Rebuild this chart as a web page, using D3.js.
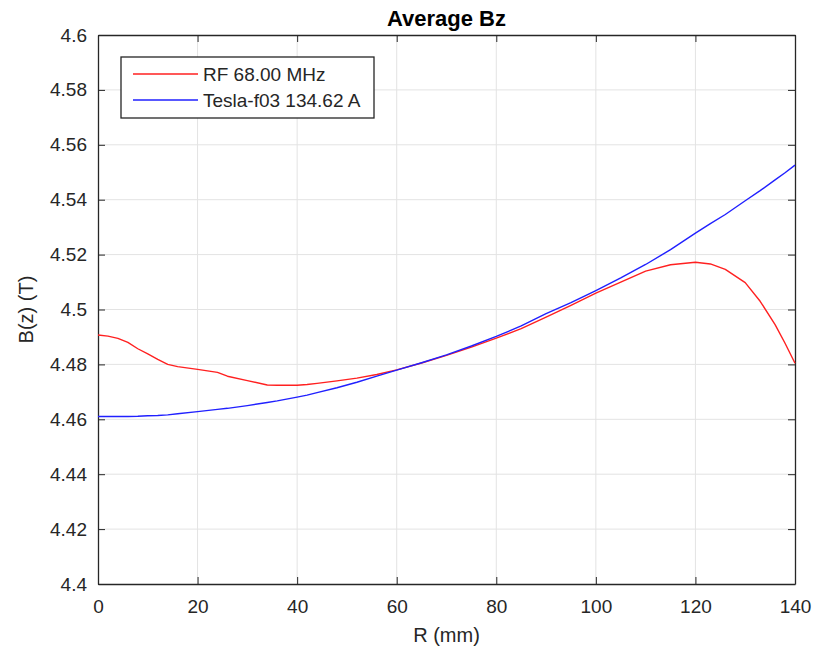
<!DOCTYPE html>
<html>
<head>
<meta charset="utf-8">
<script src="https://cdn.jsdelivr.net/npm/d3@7"></script>
<style>
  body { margin: 0; background: #fff; }
  text { font-family: "Liberation Sans", Arial, sans-serif; fill: #262626; }
</style>
</head>
<body>
<div id="chart"></div>
<script>
// radius (mm)
const radius = [0, 2, 4, 6, 8, 10, 12, 14, 16, 20, 24, 26, 30, 34, 36, 40, 42, 44, 48, 52, 56, 60,
  65, 70, 75, 80, 85, 90, 95, 100, 105, 110, 115, 120, 123, 126, 130, 133, 136, 138, 140];

const rfBz = [4.4907, 4.4903, 4.4895, 4.4880, 4.4857, 4.4838, 4.4818, 4.4800, 4.4792, 4.4782,
  4.4771, 4.4757, 4.4741, 4.4725, 4.4724, 4.4724, 4.4727, 4.4731, 4.4740, 4.4750, 4.4763,
  4.4780, 4.4805, 4.4833, 4.4863, 4.4896, 4.4930, 4.4972, 4.5015, 4.5060, 4.5100, 4.5140,
  4.5163, 4.5172, 4.5166, 4.5146, 4.5098, 4.5030, 4.4945, 4.4877, 4.4804];

const teslaBz = [4.4610, 4.4610, 4.4610, 4.4610, 4.4611, 4.4613, 4.4614, 4.4616, 4.4620, 4.4628,
  4.4636, 4.4640, 4.4650, 4.4661, 4.4667, 4.4681, 4.4688, 4.4697, 4.4715, 4.4735, 4.4757,
  4.4779, 4.4806, 4.4835, 4.4867, 4.4902, 4.4940, 4.4985, 4.5025, 4.5069, 4.5115, 4.5164,
  4.5218, 4.5278, 4.5313, 4.5346, 4.5396, 4.5433, 4.5472, 4.5498, 4.5526];

const xTicks = [0, 20, 40, 60, 80, 100, 120, 140];
const yTicks = [4.4, 4.42, 4.44, 4.46, 4.48, 4.5, 4.52, 4.54, 4.56, 4.58, 4.6];

const seriesNames = ["RF 68.00 MHz", "Tesla-f03 134.62 A"];
const seriesColors = ["#ff2020", "#2020ff"];

const width = 826, height = 652;
const margin = { top: 35, right: 31, bottom: 68, left: 98 };
const innerW = width - margin.left - margin.right;
const innerH = height - margin.top - margin.bottom;

const svg = d3.select("#chart").append("svg")
  .attr("width", width)
  .attr("height", height);

const g = svg.append("g")
  .attr("transform", `translate(${margin.left},${margin.top})`);

const x = d3.scaleLinear().domain([0, 140]).range([0, innerW]);
const y = d3.scaleLinear().domain([4.4, 4.6]).range([innerH, 0]);

// grid
g.append("g").selectAll("line")
  .data(xTicks.slice(1, -1))
  .enter().append("line")
  .attr("x1", d => x(d)).attr("x2", d => x(d))
  .attr("y1", 0).attr("y2", innerH)
  .attr("stroke", "#e3e3e3").attr("stroke-width", 1);

g.append("g").selectAll("line")
  .data(yTicks.slice(1, -1))
  .enter().append("line")
  .attr("x1", 0).attr("x2", innerW)
  .attr("y1", d => y(d)).attr("y2", d => y(d))
  .attr("stroke", "#e3e3e3").attr("stroke-width", 1);

// axes with inward ticks
const fmtY = d => d3.format(".2~f")(d);

const xAxis = g.append("g")
  .attr("transform", `translate(0,${innerH})`)
  .call(d3.axisBottom(x).tickValues(xTicks).tickSizeInner(-7).tickSizeOuter(0).tickPadding(16));

const yAxis = g.append("g")
  .call(d3.axisLeft(y).tickValues(yTicks).tickFormat(fmtY).tickSizeInner(-7).tickSizeOuter(0).tickPadding(11));

const xTop = g.append("g")
  .call(d3.axisTop(x).tickValues(xTicks).tickSizeInner(-7).tickSizeOuter(0).tickFormat(""));

const yRight = g.append("g")
  .attr("transform", `translate(${innerW},0)`)
  .call(d3.axisRight(y).tickValues(yTicks).tickSizeInner(-7).tickSizeOuter(0).tickFormat(""));

[xAxis, yAxis, xTop, yRight].forEach(a => {
  a.select(".domain").attr("stroke", "#262626").attr("stroke-width", 1.3);
  a.selectAll(".tick line").attr("stroke", "#262626");
  a.selectAll(".tick text")
    .style("font-family", "'Liberation Sans', Arial, sans-serif")
    .style("font-size", "19px")
    .attr("fill", "#262626");
});

// lines
const line = d3.line()
  .x((d, i) => x(radius[i]))
  .y(d => y(d));

[rfBz, teslaBz].forEach((vals, k) => {
  g.append("path")
    .datum(vals)
    .attr("fill", "none")
    .attr("stroke", seriesColors[k])
    .attr("stroke-width", 1.4)
    .attr("stroke-linejoin", "round")
    .attr("d", line);
});

// title and labels
svg.append("text")
  .attr("x", margin.left + innerW / 2)
  .attr("y", 26)
  .attr("text-anchor", "middle")
  .style("font-size", "22px")
  .style("font-weight", "bold")
  .style("fill", "#000")
  .text("Average Bz");

svg.append("text")
  .attr("x", margin.left + innerW / 2)
  .attr("y", 642)
  .attr("text-anchor", "middle")
  .style("font-size", "20px")
  .text("R (mm)");

svg.append("text")
  .attr("transform", `translate(33,${margin.top + innerH / 2}) rotate(-90)`)
  .attr("text-anchor", "middle")
  .style("font-size", "20px")
  .text("B(z) (T)");

// legend
const legend = svg.append("g").attr("transform", "translate(121,57)");

legend.append("rect")
  .attr("width", 253).attr("height", 61)
  .attr("fill", "#fff")
  .attr("stroke", "#262626").attr("stroke-width", 1.3);

const items = legend.selectAll(".item")
  .data(seriesNames)
  .enter().append("g")
  .attr("class", "item")
  .attr("transform", (d, i) => `translate(0,${17 + i * 26})`);

items.append("line")
  .attr("x1", 12).attr("x2", 77)
  .attr("stroke", (d, i) => seriesColors[i])
  .attr("stroke-width", 1.4);

items.append("text")
  .attr("x", 82)
  .attr("dy", "0.35em")
  .style("font-size", "19px")
  .text(d => d);
</script>
</body>
</html>
